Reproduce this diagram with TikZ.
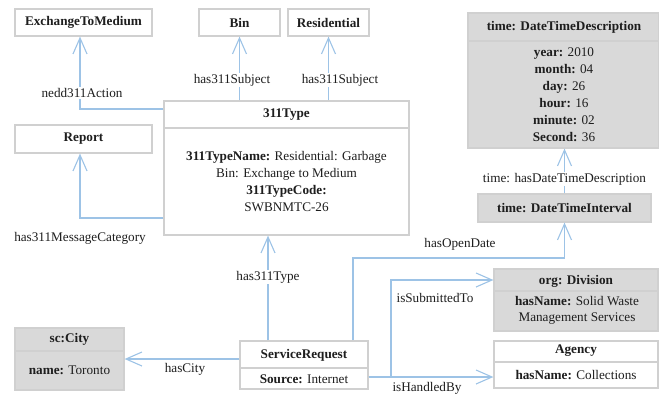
\documentclass[tikz,border=0pt]{standalone}
\usepackage{fontspec}
\setmainfont{Liberation Serif}
\usetikzlibrary{arrows.meta}
\definecolor{edgeblue}{RGB}{157,195,230}
\definecolor{boxline}{RGB}{208,208,208}
\definecolor{boxfill}{RGB}{217,217,217}
\definecolor{ink}{RGB}{30,30,30}
\begin{document}
\begin{tikzpicture}[x=1pt,y=-1pt,
  every node/.style={text=ink, font=\fontsize{13.2}{17}\selectfont},
  box/.style={draw=boxline, line width=1.2pt, fill=white, inner sep=0pt},
  greybox/.style={box, fill=boxfill},
  txt/.style={inner sep=0pt, align=center},
  lbl/.style={fill=white, inner sep=1.2pt},
  divider/.style={draw=boxline, line width=1.2pt},
  link/.style={draw=edgeblue, line width=1.4pt,
    -{Straight Barb[length=16pt,width=14pt,line width=1.1pt]}},
  plain/.style={draw=edgeblue, line width=1.4pt}]
\useasboundingbox (0,0) rectangle (659,394);

% ---- boxes ----
\node[box, minimum width=137pt, minimum height=27pt] (etm) at (83.5,22.5) {\textbf{ExchangeToMedium}};
\node[box, minimum width=81pt, minimum height=27pt] (bin) at (239.5,22.5) {\textbf{Bin}};
\node[box, minimum width=81pt, minimum height=27pt] (res) at (328.5,22.5) {\textbf{Residential}};
\node[box, minimum width=137pt, minimum height=28pt] (rep) at (83.5,139) {\textbf{Report}};

\node[box, minimum width=245pt, minimum height=134pt] (t311) at (286.5,168) {};
\draw[divider] (t311.west |- 0,128) -- (t311.east |- 0,128);
\node[txt] (t311h) at (286.5,115) {\textbf{311Type}};
\node[txt] (t311b) at (286.5,182) {\textbf{311TypeName:} Residential: Garbage\\Bin: Exchange to Medium\\\textbf{311TypeCode:}\\SWBNMTC-26};

\node[greybox, minimum width=190.5pt, minimum height=135pt] (dtd) at (563.25,80.5) {};
\draw[divider] (dtd.west |- 0,41) -- (dtd.east |- 0,41);
\node[txt] (dtdh) at (564,27) {\textbf{time: DateTimeDescription}};
\node[txt] (dtdb) at (564,94.5) {\textbf{year:} 2010\\\textbf{month:} 04\\\textbf{day:} 26\\\textbf{hour:} 16\\\textbf{minute:} 02\\\textbf{Second:} 36};

\node[greybox, minimum width=173pt, minimum height=28pt] (dti) at (564.5,208) {\textbf{time: DateTimeInterval}};

\node[greybox, minimum width=164pt, minimum height=62pt] (div) at (576,300) {};
\draw[divider] (div.west |- 0,291) -- (div.east |- 0,291);
\node[txt] (divh) at (576,281) {\textbf{org: Division}};
\node[txt, font=\fontsize{13.2}{16}\selectfont] (divb) at (577,310.5) {\textbf{hasName:} Solid Waste\\Management Services};

\node[box, minimum width=164pt, minimum height=47pt] (agc) at (576,364.5) {};
\draw[divider] (agc.west |- 0,362) -- (agc.east |- 0,362);
\node[txt] (agch) at (576,351) {\textbf{Agency}};
\node[txt] (agcb) at (576,375.5) {\textbf{hasName:} Collections};

\node[greybox, minimum width=109pt, minimum height=62pt] (city) at (69.5,359) {};
\draw[divider] (city.west |- 0,351) -- (city.east |- 0,351);
\node[txt] (cityh) at (69.5,339.5) {\textbf{sc:City}};
\node[txt] (cityb) at (69.5,370) {\textbf{name:} Toronto};

\node[box, minimum width=128pt, minimum height=48pt] (sr) at (304,365) {};
\draw[divider] (sr.west |- 0,368) -- (sr.east |- 0,368);
\node[txt] (srh) at (304,355) {\textbf{ServiceRequest}};
\node[txt] (srb) at (304,379) {\textbf{Source:} Internet};

% ---- bend points ----
\coordinate (kA) at (80,109);
\coordinate (kB) at (80,218);
\coordinate (kC) at (268,300);
\coordinate (kD) at (353,258);
\coordinate (kE) at (391,377);
\coordinate (kF) at (391,280);
\coordinate (kH) at (240,359);

% ---- connectors ----
\draw[link] (t311.west |- kA) -- (kA) -- (kA |- etm.south);
\draw[link] (t311.west |- kB) -- (kB) -- (kB |- rep.south);
\draw[link] (t311.north -| bin) -- (bin.south);
\draw[link] (t311.north -| res) -- (res.south);
\draw[link] (dti.north) -- (dti.north |- dtd.south);
\draw[link] (sr.north -| kC) -- (kC |- t311.south);
\draw[link] (sr.north -| kD) -- (kD) -| (dti.south);
\draw[link] (sr.east |- kE) -- (kE) -- (kF) -- (kF -| div.west);
\draw[link] (sr.east |- kE) -- (kE -| agc.west);
\draw[link] (sr.west |- kH) -- (kH -| city.east);

% ---- connector labels ----
\node[lbl] (lA) at (82,93) {nedd311Action};
\node[lbl] (lB) at (80,238.5) {has311MessageCategory};
\node[lbl] (lC) at (232,80) {has311Subject};
\node[lbl] (lD) at (340,80) {has311Subject};
\node[lbl] (lE) at (564.5,179) {time: hasDateTimeDescription};
\node[lbl] (lF) at (268,277) {has311Type};
\node[lbl] (lG) at (460,244.5) {hasOpenDate};
\node[lbl] (lH) at (435,298) {isSubmittedTo};
\node[lbl] (lI) at (427,388.5) {isHandledBy};
\node[lbl] (lJ) at (185,369) {hasCity};
\end{tikzpicture}
\end{document}
